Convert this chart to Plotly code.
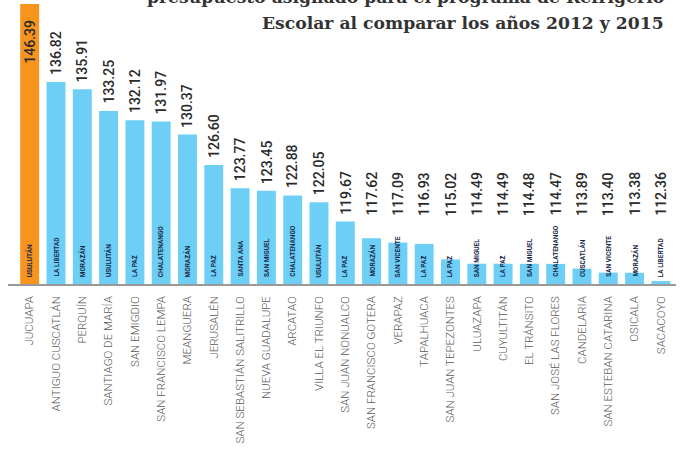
import plotly.graph_objects as go

municipios = ["JUCUAPA", "ANTIGUO CUSCATLÁN", "PERQUÍN", "SANTIAGO DE MARÍA", "SAN EMIGDIO",
              "SAN FRANCISCO LEMPA", "MEANGUERA", "JERUSALÉN", "SAN SEBASTIÁN SALITRILLO",
              "NUEVA GUADALUPE", "ARCATAO", "VILLA EL TRIUNFO", "SAN JUAN NONUALCO",
              "SAN FRANCISCO GOTERA", "VERAPAZ", "TAPALHUACA", "SAN JUAN TEPEZONTES",
              "ULUAZAPA", "CUYULTITÁN", "EL TRÁNSITO", "SAN JOSÉ LAS FLORES", "CANDELARIA",
              "SAN ESTEBAN CATARINA", "OSICALA", "SACACOYO"]
valores = [146.39, 136.82, 135.91, 133.25, 132.12, 131.97, 130.37, 126.60, 123.77, 123.45,
           122.88, 122.05, 119.67, 117.62, 117.09, 116.93, 115.02, 114.49, 114.49, 114.48,
           114.47, 113.89, 113.40, 113.38, 112.36]
departamentos = ["USULUTÁN", "LA LIBERTAD", "MORAZÁN", "USULUTÁN", "LA PAZ", "CHALATENANGO",
                 "MORAZÁN", "LA PAZ", "SANTA ANA", "SAN MIGUEL", "CHALATENANGO", "USULUTÁN",
                 "LA PAZ", "MORAZÁN", "SAN VICENTE", "LA PAZ", "LA PAZ", "SAN MIGUEL", "LA PAZ",
                 "SAN MIGUEL", "CHALATENANGO", "CUSCATLÁN", "SAN VICENTE", "MORAZÁN", "LA LIBERTAD"]
titulo_1 = "presupuesto asignado para el programa de Refrigerio"
titulo_2 = "Escolar al comparar los años 2012 y 2015"

BASE = 112.0
LABEL_FLOOR = 119.5   # value labels of short bars sit on a common line
n = len(municipios)
xs = list(range(n))
colors = ["#F7941E"] + ["#6DCFF6"] * (n - 1)

fig = go.Figure()
fig.add_trace(go.Bar(
    x=xs, y=[v - BASE for v in valores], base=BASE,
    width=0.72,
    marker=dict(color=colors, line=dict(width=0)),
    hoverinfo="skip",
))

valfont = dict(family="Roboto", size=14, color="#2a2a2a", weight=500)
for i, v in enumerate(valores):
    if i == 0:
        fig.add_annotation(x=i, y=v, xref="x", yref="y", text=f"{v:.2f}", showarrow=False,
                           textangle=-90, xanchor="center", yanchor="top", yshift=-14,
                           font=valfont)
    else:
        fig.add_annotation(x=i, y=max(v, LABEL_FLOOR), xref="x", yref="y", text=f"{v:.2f}",
                           showarrow=False, textangle=-90, xanchor="center",
                           yanchor="bottom", yshift=5, font=valfont)

for i, d in enumerate(departamentos):
    fig.add_annotation(x=i, y=BASE, xref="x", yref="y", text=d, showarrow=False,
                       textangle=-90, xanchor="center", yanchor="bottom", yshift=5,
                       font=dict(family="Roboto", size=6.5, color="#1b2a49", weight="bold"))

tfont = dict(family="DejaVu Serif", size=17.2, color="#333333", weight="bold")
fig.add_annotation(x=0.985, xref="paper", y=1.012, yref="paper", text=titulo_1, showarrow=False,
                   xanchor="right", yanchor="middle", font=tfont)
fig.add_annotation(x=0.985, xref="paper", y=0.918, yref="paper", text=titulo_2, showarrow=False,
                   xanchor="right", yanchor="middle", font=tfont)

fig.update_layout(
    width=686, height=449,
    margin=dict(l=8, r=10, t=0, b=165),
    paper_bgcolor="white", plot_bgcolor="white",
    showlegend=False,
    xaxis=dict(range=[-0.825, 24.575], tickmode="array", tickvals=xs, ticktext=municipios,
               tickangle=-90, showgrid=False, zeroline=False,
               showline=True, linecolor="#9a9a9a", linewidth=1.5, ticks="",
               tickfont=dict(family="Roboto", size=11.5, color="#5a5a5a", weight=300),
               ticklabelstandoff=6, automargin=False),
    yaxis=dict(range=[BASE, 146.88], visible=False),
)

fig.write_html("out.html", config={"displayModeBar": False, "staticPlot": True},
               post_script="document.body.style.margin='0';")
